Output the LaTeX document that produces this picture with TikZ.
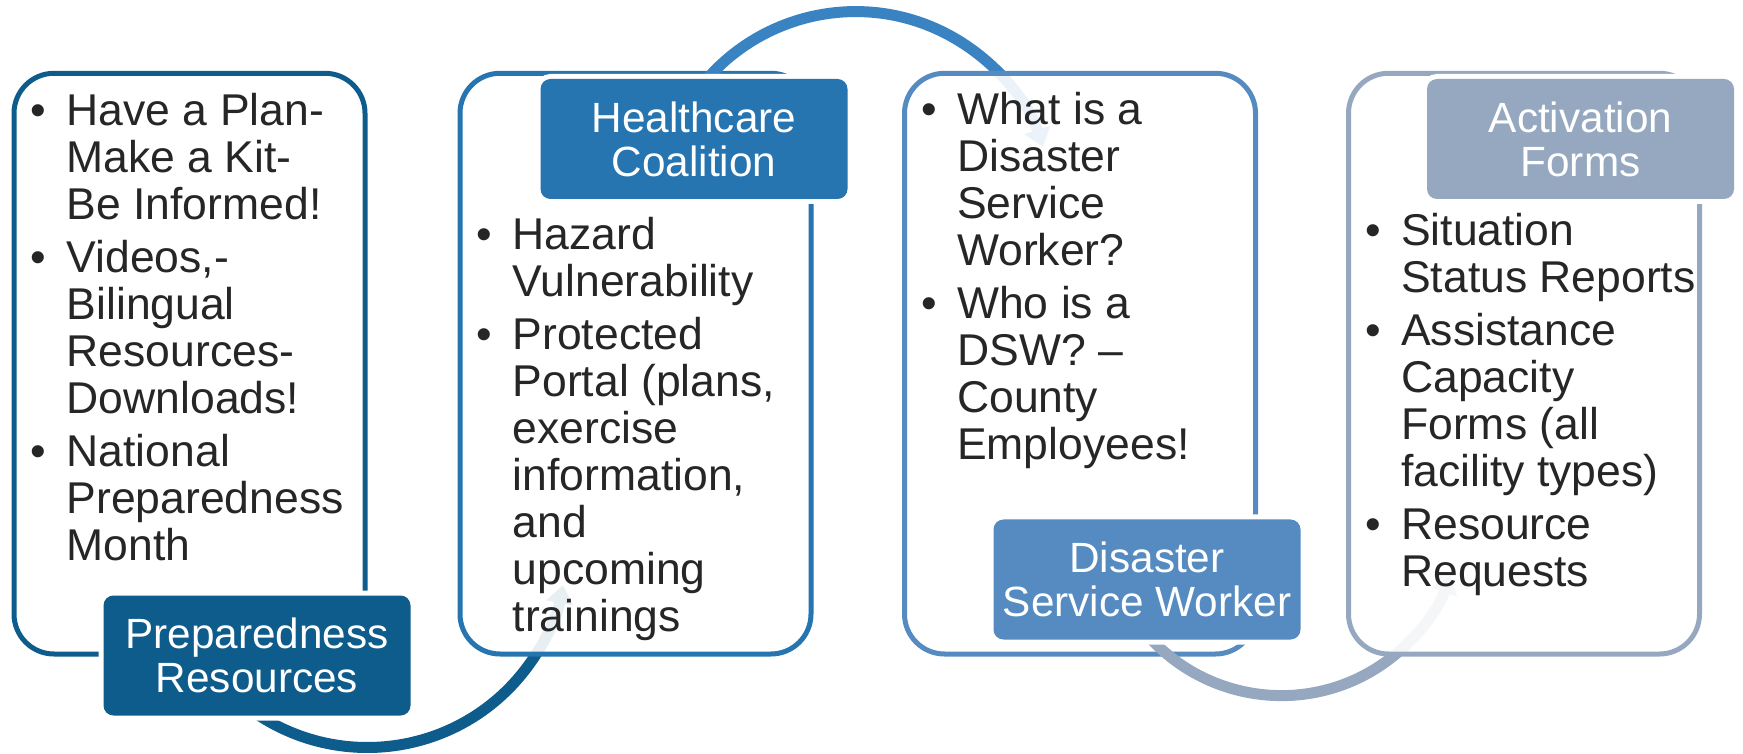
\documentclass[tikz,border=0pt]{standalone}
\usepackage{fontspec}
\setmainfont{Liberation Sans}
\usetikzlibrary{positioning,calc,arrows.meta}
\definecolor{prepblue}{RGB}{14,92,139}
\definecolor{hccblue}{RGB}{38,116,176}
\definecolor{dswblue}{RGB}{85,139,192}
\definecolor{actgrey}{RGB}{149,168,192}
\definecolor{hccarc}{RGB}{58,131,194}
\definecolor{bodytext}{RGB}{38,38,38}
\newcommand{\bl}{\makebox[36pt][l]{\textbullet}}
\tikzset{
panel/.style={
  rectangle,
  rounded corners=40pt,
  draw=#1,
  line width=5pt,
  fill=white,
  fill opacity=0.9,
  minimum width=351pt,
  minimum height=580.7pt,
  inner sep=0pt
  },
tag/.style={
  rectangle,
  rounded corners=10pt,
  fill=#1,
  preaction={draw=white,line width=10pt},
  minimum width=307pt,
  minimum height=120pt,
  inner sep=0pt,
  text=white,
  align=center,
  font=\fontsize{42.3}{44}\selectfont
  },
bullets/.style={
  anchor=base west,
  inner sep=0pt,
  text=bodytext,
  font=\fontsize{44.5}{47}\selectfont
  },
flow/.style={draw=#1,line width=11pt,-{Triangle[width=26pt,length=18pt]}},
%texto/.style={font=\small}
}
\begin{document}
\begin{tikzpicture}[x=1pt,y=1pt]
    \useasboundingbox (0,0) rectangle (1743,753);
    \coordinate (bend1) at (367.4,204.5);
    \coordinate (bend2) at (855.6,544.1);
    \coordinate (bend3) at (1281.4,235.7);

    % preparedness
    \node [panel=prepblue] (panel1) at (189.5,389.35) {};
    \draw [flow=prepblue] ([shift={(230:199)}]bend1) arc [start angle=230, end angle=349.4, radius=199];
    \node [tag=prepblue] (tag1) at ($(panel1.south west)+(245.5,1)$) {Preparedness\\Resources};
    \node [bullets] (list1) at ($(panel1.north west)+(19,-54.7)$) {%
        \begin{tabular}[t]{@{}l@{}l@{}}
        \bl & Have a Plan-\\ & Make a Kit-\\ & Be Informed!\\[6pt]
        \bl & Videos,-\\ & Bilingual\\ & Resources-\\ & Downloads!\\[6pt]
        \bl & National\\ & Preparedness\\ & Month
        \end{tabular}};

    % healthcare coalition
    \node [panel=hccblue] (panel2) at (635.5,389.35) {};
    \draw [flow=hccarc] ([shift={(150:197.3)}]bend2) arc [start angle=150, end angle=18.3, radius=197.3];
    \node [tag=hccblue] (tag2) at ($(panel2.north west)+(236.5,-68.2)$) {Healthcare\\Coalition};
    \node [bullets] (list2) at ($(panel2.north west)+(19,-178.7)$) {%
        \begin{tabular}[t]{@{}l@{}l@{}}
        \bl & Hazard\\ & Vulnerability\\[6pt]
        \bl & Protected\\ & Portal (plans,\\ & exercise\\ & information,\\ & and\\ & upcoming\\ & trainings
        \end{tabular}};

    % disaster service worker
    \node [panel=dswblue] (panel3) at (1080,389.35) {};
    \draw [flow=actgrey] ([shift={(215:178.3)}]bend3) arc [start angle=215, end angle=341.1, radius=178.3];
    \node [tag=dswblue] (tag3) at ($(panel3.south west)+(245,77)$) {Disaster\\Service Worker};
    \node [bullets] (list3) at ($(panel3.north west)+(19,-53.7)$) {%
        \begin{tabular}[t]{@{}l@{}l@{}}
        \bl & What is a\\ & Disaster\\ & Service\\ & Worker?\\[6pt]
        \bl & Who is a\\ & DSW? \textendash\\ & County\\ & Employees!
        \end{tabular}};

    % activation forms
    \node [panel=actgrey] (panel4) at (1524,389.35) {};
    \node [tag=actgrey] (tag4) at ($(panel4.north west)+(234.5,-68.2)$) {Activation\\Forms};
    \node [bullets] (list4) at ($(panel4.north west)+(19,-174.7)$) {%
        \begin{tabular}[t]{@{}l@{}l@{}}
        \bl & Situation\\ & Status Reports\\[6pt]
        \bl & Assistance\\ & Capacity\\ & Forms (all\\ & facility types)\\[6pt]
        \bl & Resource\\ & Requests
        \end{tabular}};

\end{tikzpicture}
\end{document}
